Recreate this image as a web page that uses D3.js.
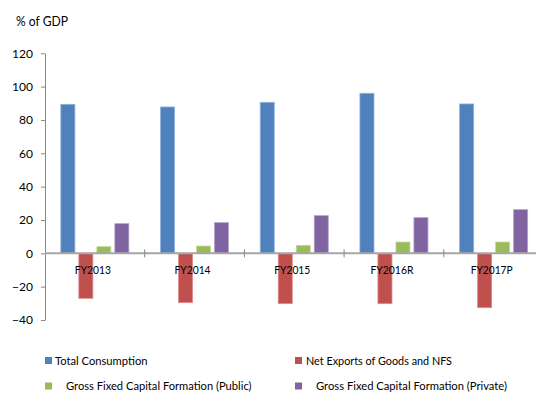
<!DOCTYPE html>
<html><head><meta charset="utf-8">
<script src="https://cdn.jsdelivr.net/npm/d3@7"></script>
<style>
html,body{margin:0;padding:0;background:#fff;}
svg{display:block;font-family:Lato,"Open Sans",sans-serif;}
</style></head>
<body>
<script>
const years = ["FY2013", "FY2014", "FY2015", "FY2016R", "FY2017P"];
const seriesNames = [
  "Total Consumption",
  "Net Exports of Goods and NFS",
  "Gross Fixed Capital Formation (Public)",
  "Gross Fixed Capital Formation (Private)"
];
const totalConsumption = [89.4, 87.8, 90.6, 96.0, 89.6];
const netExports = [-27.0, -29.6, -30.2, -30.2, -32.6];
const gfcfPublic = [4.0, 4.4, 4.8, 6.8, 6.8];
const gfcfPrivate = [17.8, 18.4, 22.6, 21.4, 26.2];
const yTicks = [-40, -20, 0, 20, 40, 60, 80, 100, 120];
const colors = ["#4F81BD", "#C0504D", "#9BBB59", "#8064A2"];
const strokes = ["#8FB0DA", "#DA8E8C", "#C4DA9C", "#B3A2CB"];

const seriesValues = [totalConsumption, netExports, gfcfPublic, gfcfPrivate];

const W = 536, H = 393;
const svg = d3.select("body").append("svg").attr("width", W).attr("height", H);

const x0 = 45, step = 99.7;
const x = d3.scaleBand().domain(years).range([x0, x0 + step * years.length]).paddingInner(0).paddingOuter(0);
const xs = d3.scaleBand().domain(d3.range(4)).range([0, step]).paddingInner(0.22).paddingOuter(0.88);
const y = d3.scaleLinear().domain([-40, 120]).range([320, 53.3]);

// Title
svg.append("text").attr("x", 16).attr("y", 26).attr("font-size", 13).attr("fill", "#000")
  .attr("textLength", 52).attr("lengthAdjust", "spacingAndGlyphs").text("% of GDP");

// Y axis
const yAxis = d3.axisLeft(y).tickValues(yTicks).tickSize(4).tickSizeOuter(0).tickPadding(8);
const gy = svg.append("g").attr("transform", `translate(${x0},0)`).call(yAxis);
gy.select(".domain").attr("stroke", "#888");
gy.selectAll(".tick line").attr("stroke", "#888");
gy.selectAll(".tick text").attr("font-size", 12).attr("fill", "#000").attr("font-family", "Lato,'Open Sans',sans-serif");

// Bars
years.forEach((yr, i) => {
  seriesValues.forEach((vals, s) => {
    const v = vals[i];
    svg.append("rect")
      .attr("x", x(yr) + xs(s))
      .attr("y", y(Math.max(0, v)))
      .attr("width", xs.bandwidth())
      .attr("height", Math.abs(y(v) - y(0)))
      .attr("fill", colors[s])
      .attr("stroke", strokes[s])
      .attr("stroke-width", 0.8);
  });
});

// Zero line with category ticks
svg.append("line").attr("x1", x0).attr("x2", W).attr("y1", y(0)).attr("y2", y(0))
  .attr("stroke", "#A6A6A6").attr("stroke-width", 2);
d3.range(1, years.length + 1).forEach(i => {
  const xt = x0 + step * i;
  svg.append("line").attr("x1", xt).attr("x2", xt)
    .attr("y1", y(0) - 4).attr("y2", y(0) + 4).attr("stroke", "#888").attr("stroke-width", 1);
});

// Category labels
const catWidths = { "FY2013": 36, "FY2014": 36, "FY2015": 36, "FY2016R": 43, "FY2017P": 42 };
svg.selectAll(".cat").data(years).enter().append("text")
  .attr("x", d => x(d) + step / 2 - 2 - catWidths[d] / 2).attr("y", 274)
  .attr("font-size", 12).attr("fill", "#000")
  .attr("textLength", d => catWidths[d]).attr("lengthAdjust", "spacingAndGlyphs")
  .text(d => d);

// Legend
const legendPos = [
  { sx: 45, tx: 55, y: 360.5, w: 92.5 },
  { sx: 295, tx: 306, y: 360.5, w: 146 },
  { sx: 45, tx: 66, y: 386, w: 185.5 },
  { sx: 295, tx: 316, y: 386, w: 191 }
];
seriesNames.forEach((name, s) => {
  const p = legendPos[s];
  svg.append("rect").attr("x", p.sx).attr("y", p.y - 3.5).attr("width", 7).attr("height", 7).attr("fill", colors[s]);
  svg.append("text").attr("x", p.tx).attr("y", p.y + 4).attr("font-size", 11.5).attr("fill", "#000")
    .attr("textLength", p.w).attr("lengthAdjust", "spacingAndGlyphs").text(name);
});
</script>
</body></html>
